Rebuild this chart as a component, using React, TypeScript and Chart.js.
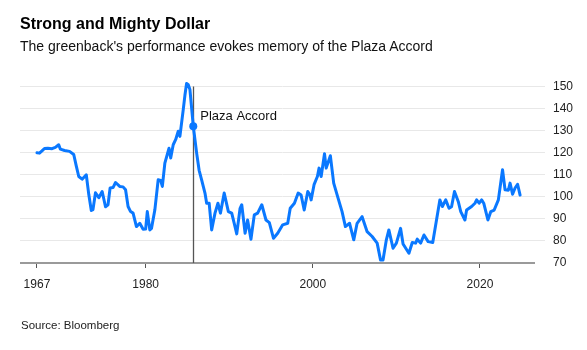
import React, { useEffect, useRef } from "react";
import { Chart, registerables } from "chart.js";

Chart.register(...registerables);

const TITLE = "Strong and Mighty Dollar";
const SUBTITLE = "The greenback's performance evokes memory of the Plaza Accord";
const SOURCE = "Source: Bloomberg";

const years = [
  1967.0, 1967.3, 1967.6, 1967.9, 1968.3, 1968.8, 1969.2, 1969.6, 1969.8, 1970.3,
  1970.9, 1971.4, 1971.7, 1972.0, 1972.4, 1972.9, 1973.2, 1973.5, 1973.7, 1974.0,
  1974.4, 1974.8, 1975.2, 1975.5, 1975.75, 1976.1, 1976.4, 1976.9, 1977.3, 1977.6,
  1977.9, 1978.2, 1978.5, 1978.9, 1979.3, 1979.7, 1980.0, 1980.2, 1980.5, 1980.7,
  1981.1, 1981.5, 1981.8, 1982.0, 1982.3, 1982.8, 1983.0, 1983.3, 1983.6, 1983.9,
  1984.1, 1984.5, 1984.7, 1984.9, 1985.1, 1985.3, 1985.7, 1986.1, 1986.4, 1986.7,
  1987.1, 1987.3, 1987.6, 1987.9, 1988.3, 1988.65, 1988.95, 1989.4, 1989.9, 1990.3,
  1990.6, 1990.9, 1991.3, 1991.5, 1991.9, 1992.2, 1992.6, 1993.0, 1993.4, 1993.9,
  1994.4, 1994.8, 1995.3, 1995.8, 1996.4, 1997.0, 1997.3, 1997.8, 1998.25, 1998.6,
  1998.97, 1999.4, 1999.65, 1999.8, 2000.15, 2000.55, 2000.75, 2001.0, 2001.4, 2001.6,
  2002.1, 2002.5, 2002.9, 2003.5, 2003.9, 2004.4, 2004.9, 2005.3, 2005.9, 2006.5,
  2007.1, 2007.7, 2008.1, 2008.4, 2008.8, 2009.1, 2009.6, 2010.0, 2010.5, 2010.8,
  2011.5, 2011.9, 2012.3, 2012.5, 2012.9, 2013.3, 2013.8, 2014.35, 2014.8, 2015.2,
  2015.5, 2015.9, 2016.3, 2016.6, 2016.95, 2017.4, 2017.7, 2018.2, 2018.4, 2019.0,
  2019.4, 2019.6, 2019.9, 2020.2, 2020.45, 2020.95, 2021.3, 2021.7, 2022.2, 2022.7,
  2023.0, 2023.4, 2023.6, 2023.9, 2024.2, 2024.5, 2024.8,
];

const values = [
  120.0, 119.8, 120.8, 121.9, 122.0, 121.8, 122.4, 123.6, 121.6, 121.0,
  120.6, 119.2, 114.0, 109.2, 108.0, 110.0, 101.0, 93.8, 94.2, 101.8,
  99.6, 102.4, 95.5, 96.4, 104.0, 104.2, 106.5, 104.7, 104.5, 103.2,
  95.6, 93.3, 92.6, 86.5, 88.0, 85.3, 85.4, 93.3, 85.0, 85.7,
  94.0, 107.7, 107.4, 104.7, 115.3, 122.0, 117.6, 123.6, 126.0, 129.7,
  127.4, 139.5, 146.0, 151.4, 150.8, 148.6, 132.0, 119.9, 112.0, 107.7,
  101.7, 97.1, 97.1, 85.0, 92.6, 97.1, 92.6, 101.7, 93.3, 92.6,
  88.0, 83.2, 94.8, 96.4, 83.5, 89.5, 80.8, 91.8, 92.6, 96.4,
  89.5, 88.3, 81.2, 83.5, 87.3, 88.0, 94.8, 97.1, 101.7, 100.8,
  94.0, 102.4, 101.0, 98.6, 105.5, 109.2, 113.0, 109.2, 119.5, 113.0,
  118.6, 106.2, 101.0, 93.3, 86.5, 88.0, 80.5, 88.0, 91.0, 84.2,
  82.0, 79.0, 71.4, 71.4, 80.5, 85.0, 76.7, 79.0, 85.7, 78.6,
  74.4, 79.3, 79.0, 80.8, 79.0, 82.7, 79.7, 79.3, 89.5, 98.6,
  95.6, 98.6, 94.8, 95.5, 102.4, 97.9, 93.3, 89.5, 94.0, 95.6,
  97.1, 98.6, 97.1, 98.6, 97.1, 89.5, 93.3, 94.0, 98.6, 112.3,
  103.2, 103.0, 106.2, 101.2, 104.0, 105.7, 100.8,
];

const xTickYears = [1967, 1980, 2000, 2020];
const yMin = 70;
const yMax = 150;
const yStep = 10;

const plazaYear = 1985.7;
const plazaValue = 132;
const plazaLabel = "Plaza Accord";

const BLUE = "#0a78ff";
const FONT = "'Liberation Sans', Arial, Helvetica, sans-serif";

export default function App() {
  const ref = useRef<HTMLCanvasElement>(null);

  useEffect(() => {
    document.body.style.margin = "0";
    const canvas = ref.current;
    if (!canvas) return;

    const plazaPlugin = {
      id: "plazaAnnotation",
      beforeDatasetsDraw(chart: any) {
        const { ctx, chartArea, scales } = chart;
        const x = scales.x;
        const y = scales.y;
        const px = Math.round(x.getPixelForValue(plazaYear)) + 0.5;
        ctx.save();
        // baseline
        ctx.strokeStyle = "#9a9a9a";
        ctx.lineWidth = 2;
        ctx.beginPath();
        ctx.moveTo(chartArea.left, chartArea.bottom);
        ctx.lineTo(chartArea.right - 10, chartArea.bottom);
        ctx.stroke();
        // vertical marker
        ctx.strokeStyle = "#555555";
        ctx.lineWidth = 1.3;
        ctx.beginPath();
        ctx.moveTo(px, y.getPixelForValue(yMax));
        ctx.lineTo(px, chartArea.bottom);
        ctx.stroke();
        ctx.restore();
      },
      afterDatasetsDraw(chart: any) {
        const { ctx, scales } = chart;
        const px = scales.x.getPixelForValue(plazaYear);
        const py = scales.y.getPixelForValue(plazaValue);
        ctx.save();
        ctx.fillStyle = "#111";
        ctx.font = `13px ${FONT}`;
        ctx.textAlign = "left";
        ctx.textBaseline = "alphabetic";
        ctx.fillText(plazaLabel, px + 7, py - 6);
        ctx.restore();
      },
    };

    const chart = new Chart(canvas, {
      type: "line",
      data: {
        datasets: [
          {
            data: [{ x: plazaYear, y: plazaValue }],
            showLine: false,
            pointRadius: 4,
            pointBackgroundColor: BLUE,
            pointBorderColor: BLUE,
            pointBorderWidth: 0,
            order: 0,
          },
          {
            data: years.map((yr, i) => ({ x: yr, y: values[i] })),
            borderColor: BLUE,
            borderWidth: 3,
            pointRadius: 0,
            tension: 0,
            fill: false,
            borderJoinStyle: "round",
            borderCapStyle: "round",
            clip: false,
            order: 1,
          },
        ],
      },
      options: {
        animation: false,
        responsive: false,
        devicePixelRatio: 1,
        layout: { padding: { left: 20, top: 86.5, right: 0, bottom: 0 } },
        plugins: {
          legend: { display: false },
          tooltip: { enabled: false },
          title: { display: false },
        },
        scales: {
          x: {
            type: "linear",
            min: 1964.97,
            max: 2027.78,
            afterBuildTicks: (scale: any) => {
              scale.ticks = xTickYears.map((v) => ({ value: v }));
            },
            afterFit: (scale: any) => {
              scale.height = 87;
            },
            ticks: {
              autoSkip: false,
              maxRotation: 0,
              padding: 9,
              color: "#222",
              font: { family: FONT, size: 12 },
              callback: (v: any) => String(v),
            },
            grid: {
              drawOnChartArea: false,
              drawTicks: true,
              tickLength: 5,
              color: "#555",
              lineWidth: 1,
            },
            border: { display: false },
          },
          y: {
            type: "linear",
            position: "right",
            min: yMin,
            max: yMax,
            afterFit: (scale: any) => {
              scale.width = 42;
            },
            ticks: {
              stepSize: yStep,
              padding: 8,
              color: "#222",
              font: { family: FONT, size: 12 },
              callback: (v: any) => String(v),
            },
            grid: {
              drawTicks: false,
              color: (c: any) => (c.tick && c.tick.value === yMin ? "rgba(0,0,0,0)" : "#e8e8e8"),
              lineWidth: 1,
            },
            border: { display: false },
          },
        },
      },
      plugins: [plazaPlugin],
    } as any);

    return () => chart.destroy();
  }, []);

  return (
    <div style={{ position: "relative", width: 587, height: 350, fontFamily: FONT, background: "#fff" }}>
      <canvas ref={ref} width={587} height={350} style={{ position: "absolute", left: 0, top: 0 }} />
      <div
        style={{
          position: "absolute",
          left: 20,
          top: 15.5,
          fontSize: 16,
          lineHeight: "16px",
          fontWeight: 700,
          color: "#000",
          whiteSpace: "nowrap",
        }}
      >
        {TITLE}
      </div>
      <div
        style={{
          position: "absolute",
          left: 20,
          top: 39,
          fontSize: 14,
          lineHeight: "14px",
          color: "#111",
          whiteSpace: "nowrap",
        }}
      >
        {SUBTITLE}
      </div>
      <div
        style={{
          position: "absolute",
          left: 21,
          top: 320,
          fontSize: 11.5,
          lineHeight: "11.5px",
          color: "#222",
          whiteSpace: "nowrap",
        }}
      >
        {SOURCE}
      </div>
    </div>
  );
}
